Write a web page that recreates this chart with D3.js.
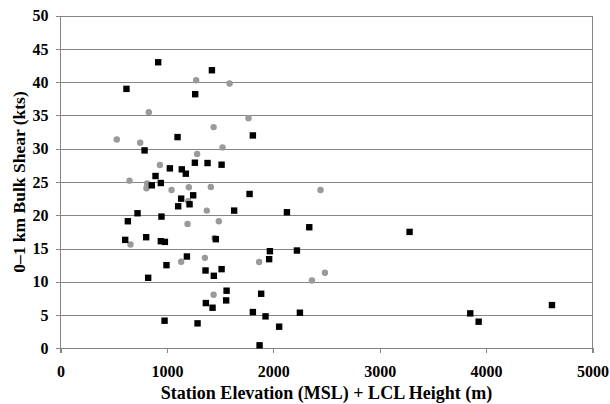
<!DOCTYPE html>
<html>
<head>
<meta charset="utf-8">
<script src="https://cdn.jsdelivr.net/npm/d3@7"></script>
<style>
  html, body { margin: 0; padding: 0; background: #fff; }
  svg { display: block; }
  svg text { font-family: "Times New Roman", "Liberation Serif", Tinos, "DejaVu Serif", serif !important; font-weight: bold; fill: #000; }
</style>
</head>
<body>
<svg id="chart" width="610" height="404"></svg>
<script>
// Black squares: [elevation + LCL height (m), 0–1 km bulk shear (kts)]
const squareSeries = [
  [620, 39.0], [918, 43.0], [1266, 38.2], [1423, 41.8], [1808, 32.0],
  [1100, 31.75], [790, 29.75], [1263, 27.9], [1382, 27.85], [1514, 27.6],
  [1028, 27.05], [1140, 26.9], [1178, 26.25], [893, 25.9], [943, 24.85],
  [858, 24.5], [1134, 22.5], [1247, 23.0], [1777, 23.2], [1213, 21.65],
  [1106, 21.35], [1632, 20.7], [2128, 20.45], [724, 20.3], [949, 19.8],
  [633, 19.1], [2338, 18.2], [3281, 17.5], [608, 16.3], [805, 16.7],
  [943, 16.1], [981, 16.0], [1460, 16.4], [1968, 14.6], [2222, 14.7],
  [1961, 13.4], [1188, 13.8], [996, 12.5], [1363, 11.7], [1514, 11.9],
  [1441, 10.9], [824, 10.6], [1561, 8.66], [1886, 8.2], [1557, 7.2],
  [1366, 6.8], [1429, 6.1], [1808, 5.45], [1927, 4.8], [2250, 5.35],
  [2055, 3.25], [978, 4.15], [1288, 3.75], [1871, 0.45], [3851, 5.25],
  [3930, 4.0], [4619, 6.5]
];

// Gray circles
const circleSeries = [
  [1275, 40.3], [1589, 39.8], [830, 35.5], [1767, 34.6], [1439, 33.25],
  [529, 31.4], [749, 30.9], [1523, 30.2], [1284, 29.2], [934, 27.55],
  [649, 25.2], [814, 24.8], [808, 24.05], [1044, 23.8], [1206, 24.2],
  [1413, 24.25], [2444, 23.8], [1200, 22.1], [1375, 20.7], [1194, 18.7],
  [1488, 19.1], [658, 15.6], [1448, 16.6], [1867, 12.97], [1134, 13.0],
  [1357, 13.6], [2485, 11.36], [2363, 10.2], [1439, 8.06]
];

const xTicks = [0, 1000, 2000, 3000, 4000, 5000];
const yTicks = [0, 5, 10, 15, 20, 25, 30, 35, 40, 45, 50];
const xTitle = "Station Elevation (MSL) + LCL Height (m)";
const yTitle = "0\u20131 km Bulk Shear (kts)";

const serif = "'Times New Roman', 'Liberation Serif', serif";
const svg = d3.select("#chart");
const margin = { left: 60.5, right: 17.5, top: 15.7, bottom: 55.7 };
const W = 610, H = 404;
const x = d3.scaleLinear().domain([0, 5000]).range([margin.left, W - margin.right]);
const y = d3.scaleLinear().domain([0, 50]).range([H - margin.bottom, margin.top]);
const lineColor = "#858585";

// Horizontal gridlines with short outward ticks on the left
const yAxis = d3.axisLeft(y).tickValues(yTicks).tickSize(-(x(5000) - x(0))).tickSizeOuter(0)
  .tickFormat(d3.format("d")).tickPadding(12);
const gy = svg.append("g").attr("transform", `translate(${x(0)},0)`).call(yAxis)
  .attr("font-family", serif);
gy.select(".domain").remove();
gy.selectAll(".tick line").attr("stroke", lineColor).attr("x1", -5).attr("shape-rendering", "crispEdges");
gy.selectAll(".tick text").attr("font-size", 16).attr("fill", "#000");

// Bottom axis with downward ticks
const xAxis = d3.axisBottom(x).tickValues(xTicks).tickSize(5).tickSizeOuter(0)
  .tickFormat(d3.format("d")).tickPadding(12);
const gx = svg.append("g").attr("transform", `translate(0,${y(0)})`).call(xAxis)
  .attr("font-family", serif);
gx.select(".domain").remove();
gx.selectAll(".tick line").attr("stroke", lineColor).attr("shape-rendering", "crispEdges");
gx.selectAll(".tick text").attr("font-size", 16).attr("fill", "#000");

// Plot frame: left and right verticals
svg.append("line").attr("x1", x(0)).attr("x2", x(0)).attr("y1", y(50)).attr("y2", y(0) + 5)
  .attr("stroke", lineColor).attr("shape-rendering", "crispEdges");
svg.append("line").attr("x1", x(5000)).attr("x2", x(5000)).attr("y1", y(50)).attr("y2", y(0) + 5)
  .attr("stroke", lineColor).attr("shape-rendering", "crispEdges");

// Gray circles
svg.append("g").selectAll("circle").data(circleSeries).join("circle")
  .attr("cx", d => x(d[0])).attr("cy", d => y(d[1])).attr("r", 3.2)
  .attr("fill", "#9a9a9a");

// Black squares
const s = 6.4;
svg.append("g").selectAll("rect").data(squareSeries).join("rect")
  .attr("x", d => x(d[0]) - s / 2).attr("y", d => y(d[1]) - s / 2)
  .attr("width", s).attr("height", s).attr("fill", "#000");

// Axis titles
svg.append("text").attr("x", (x(0) + x(5000)) / 2).attr("y", 399)
  .attr("text-anchor", "middle").attr("font-size", 18).text(xTitle);
svg.append("text").attr("transform", `translate(25,${(y(0) + y(50)) / 2}) rotate(-90)`)
  .attr("text-anchor", "middle").attr("font-size", 17.5).text(yTitle);
</script>
</body>
</html>
